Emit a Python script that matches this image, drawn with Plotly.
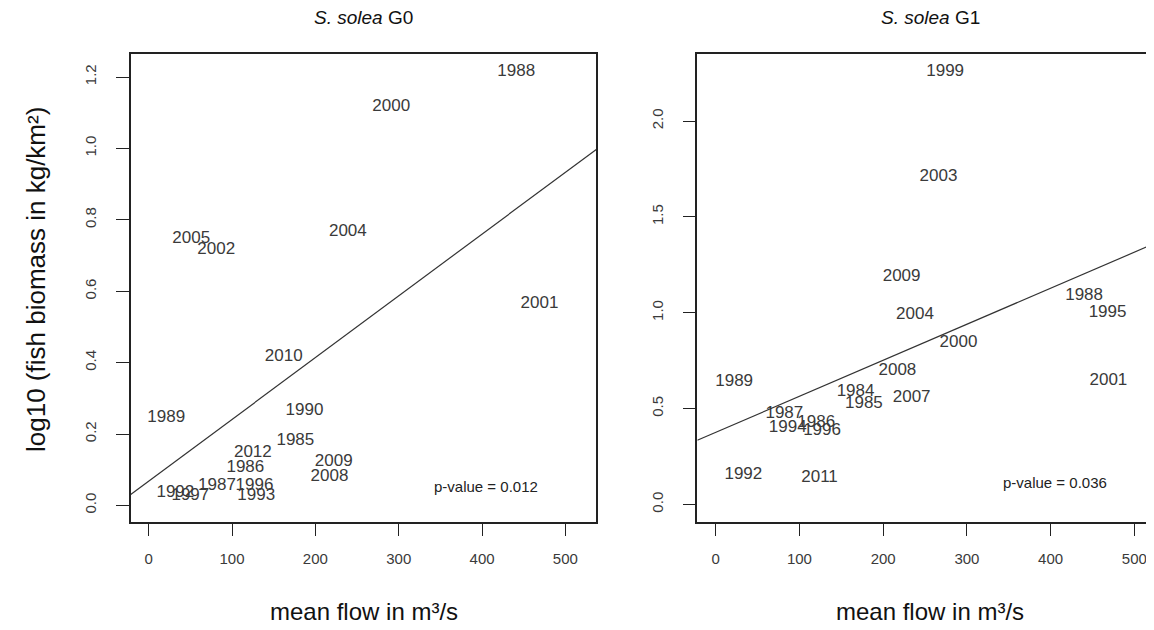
import plotly.graph_objects as go

# ---- data ----
years_g0 = [1985, 1986, 1987, 1988, 1989, 1990, 1992, 1993, 1996, 1997,
            2000, 2001, 2002, 2004, 2005, 2008, 2009, 2010, 2012]
flow_g0 = [176, 116, 82, 441, 21, 187, 32, 129, 127, 50,
           291, 469, 81, 239, 51, 217, 222, 162, 125]
logbio_g0 = [0.180, 0.105, 0.056, 1.216, 0.245, 0.264, 0.035, 0.026, 0.054, 0.028,
             1.118, 0.566, 0.716, 0.767, 0.748, 0.080, 0.123, 0.417, 0.147]

years_g1 = [1984, 1985, 1986, 1987, 1988, 1989, 1992, 1994, 1995, 1996,
            1999, 2000, 2001, 2003, 2004, 2007, 2008, 2009, 2011]
flow_g1 = [167, 177, 120, 82, 440, 22, 33, 86, 468, 127,
           274, 290, 469, 266, 238, 234, 217, 222, 124]
logbio_g1 = [0.588, 0.525, 0.426, 0.473, 1.087, 0.638, 0.156, 0.400, 0.999, 0.383,
             2.260, 0.843, 0.643, 1.712, 0.990, 0.556, 0.700, 1.186, 0.139]

# fitted regression lines (intercept, slope)
fit_g0 = (0.068, 0.00173)
fit_g1 = (0.376, 0.00188)
pvalues = ["0.012", "0.036"]
titles = ["G0", "G1"]

xticks = [0, 100, 200, 300, 400, 500]
yticks_g0 = [0.0, 0.2, 0.4, 0.6, 0.8, 1.0, 1.2]
yticks_g1 = [0.0, 0.5, 1.0, 1.5, 2.0]

# ---- layout geometry ----
W, H = 1154, 630
FONT = "Liberation Sans, Arial, sans-serif"
xr0 = [-21.6, 537.1]
xr1 = [-22.0, 533.0]
yr0 = [-0.045, 1.2645]
yr1 = [-0.089, 2.35]
dom_x0 = [122.7 / W, 588.3 / W]
dom_x1 = [689.3 / W, 1.0]
dom_y = [(H - 513.5) / H, (H - 46) / H]

fig = go.Figure()

label_color = "#3a3a3a"

def add_panel(xs, ys, yrs, fit, xr, xa, ya):
    fig.add_trace(go.Scatter(
        x=xs, y=ys, text=[str(v) for v in yrs], mode="text",
        textposition="middle center",
        textfont=dict(family=FONT, size=17, color=label_color),
        xaxis=xa, yaxis=ya, showlegend=False, hoverinfo="skip"))
    b0, b1 = fit
    fig.add_trace(go.Scatter(
        x=[xr[0], xr[1]], y=[b0 + b1 * xr[0], b0 + b1 * xr[1]],
        mode="lines", line=dict(color="#333333", width=1.2),
        xaxis=xa, yaxis=ya, showlegend=False, hoverinfo="skip"))

add_panel(flow_g0, logbio_g0, years_g0, fit_g0, xr0, "x", "y")
add_panel(flow_g1, logbio_g1, years_g1, fit_g1, xr1, "x2", "y2")

axis_common = dict(
    showgrid=False, zeroline=False, showline=True, linecolor="#222222",
    linewidth=1.5, ticks="outside", ticklen=13, tickwidth=1.3,
    tickcolor="#222222",
    tickfont=dict(family=FONT, size=15, color="#3a3a3a"),
)

fig.update_layout(
    width=W, height=H,
    margin=dict(l=0, r=0, t=0, b=0),
    paper_bgcolor="white", plot_bgcolor="white",
    xaxis=dict(domain=dom_x0, range=xr0, tickvals=xticks, mirror=True,
               ticklabelstandoff=10, anchor="y", **axis_common),
    yaxis=dict(domain=dom_y, range=yr0, tickvals=yticks_g0, tickformat=".1f",
               tickangle=-90, mirror=True, ticklabelstandoff=14, anchor="x",
               **axis_common),
    xaxis2=dict(domain=dom_x1, range=xr1, tickvals=xticks, mirror=True,
                ticklabelstandoff=10, anchor="y2", **axis_common),
    yaxis2=dict(domain=dom_y, range=yr1, tickvals=yticks_g1, tickformat=".1f",
                tickangle=-90, mirror=False, ticklabelstandoff=14, anchor="x2",
                **axis_common),
)

ann = []
centers = [(122.7 + 588.3) / 2 / W, (689.3 + 1155.3) / 2 / W]
for i, (cx, pv) in enumerate(zip(centers, pvalues)):
    ann.append(dict(text="<i>S. solea</i> " + titles[i], x=cx, y=1 - 10 / H,
                    xref="paper", yref="paper", showarrow=False,
                    xanchor="center", yanchor="middle",
                    font=dict(family=FONT, size=19, color="#111111")))
    ann.append(dict(text="mean flow in m³/s", x=cx, y=1 - 603 / H,
                    xref="paper", yref="paper", showarrow=False,
                    xanchor="center", yanchor="middle",
                    font=dict(family=FONT, size=24, color="#111111")))
    ann.append(dict(text="p-value = " + pv, x=405, y=[0.052, 0.113][i],
                    xref=["x", "x2"][i], yref=["y", "y2"][i], showarrow=False,
                    xanchor="center", yanchor="middle",
                    font=dict(family=FONT, size=15, color="#222222")))
ann.append(dict(text="log10 (fish biomass in kg/km²)", x=28 / W,
                y=(H - 272) / H, xref="paper", yref="paper", showarrow=False,
                xanchor="center", yanchor="middle",
                textangle=-90, font=dict(family=FONT, size=26, color="#111111")))
fig.update_layout(annotations=ann)

fig.write_html("out.html")
